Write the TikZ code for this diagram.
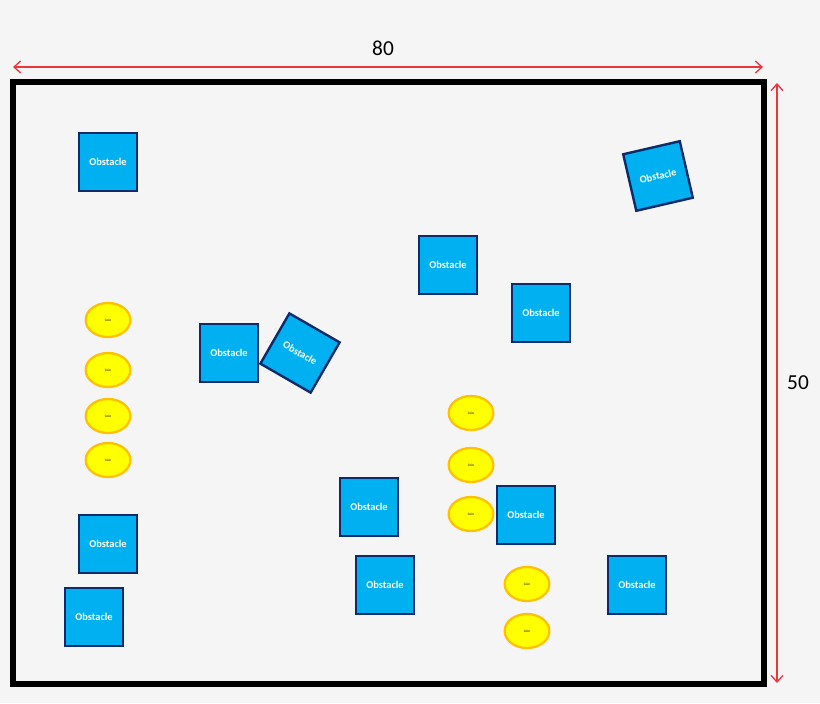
\documentclass[tikz,border=0pt]{standalone}
\usepackage{fontspec}
\setmainfont{Carlito}
\usetikzlibrary{arrows.meta,shapes.geometric}
\definecolor{obstblue}{HTML}{00B0F0}
\definecolor{obstedge}{HTML}{0D2B6B}
\definecolor{coinfill}{HTML}{FFFF00}
\definecolor{coinedge}{HTML}{FFC000}
\definecolor{bggray}{HTML}{F5F5F5}
\definecolor{dimred}{HTML}{E8383D}
\begin{document}
\begin{tikzpicture}[x = 0.75pt, y = -0.75pt,
    obst/.style = {shape = rectangle, fill = obstblue, draw = obstedge,
                   line width = 1.8pt, minimum size = 43.5pt, inner sep = 0pt,
                   text = white, font = \fontsize{7.8}{9}\selectfont\bfseries},
    coin/.style = {shape = ellipse, fill = coinfill, draw = coinedge,
                   line width = 1.7pt, minimum width = 33.5pt,
                   minimum height = 25.5pt, inner sep = 0pt,
                   font = \fontsize{2.6}{3}\selectfont},
    dim/.style = {draw = dimred, line width = 1pt,
                  {Straight Barb[length = 5pt, width = 9pt]}-{Straight Barb[length = 5pt, width = 9pt]}},
    dimlabel/.style = {font = \fontsize{16}{18}\selectfont}]
  \fill [bggray] (0, 0) rectangle (820, 703);
  \useasboundingbox (0, 0) rectangle (820, 703);

  % field
  \draw [line width = 3.8pt] (13, 82) rectangle (764, 684);

  % dimensions
  \coordinate (wl) at (13, 67);
  \coordinate (wr) at (763, 67);
  \coordinate (ht) at (777, 83);
  \coordinate (hb) at (777, 683);
  \draw [dim] (wl) -- (wr);
  \draw [dim] (ht) -- (hb);
  \node [dimlabel] (lw) at (383, 48) {80};
  \node [dimlabel] (lh) at (798, 383) {50};

  % obstacles
  \node [obst] (o1)  at (108, 162) {Obstacle};
  \node [obst] (o2)  at (448, 265) {Obstacle};
  \node [obst] (o3)  at (541, 313) {Obstacle};
  \node [obst] (o4)  at (229, 353) {Obstacle};
  \node [obst, rotate = -30] (o5) at (300, 353) {Obstacle};
  \node [obst, rotate = 13]  (o6) at (658, 176) {Obstacle};
  \node [obst] (o7)  at (369, 507) {Obstacle};
  \node [obst] (o8)  at (526, 515) {Obstacle};
  \node [obst] (o9)  at (108, 544) {Obstacle};
  \node [obst] (o10) at (385, 585) {Obstacle};
  \node [obst] (o11) at (637, 585) {Obstacle};
  \node [obst] (o12) at (94, 617)  {Obstacle};

  % coins
  \node [coin] (c1) at (108, 320) {Coin};
  \node [coin] (c2) at (108, 370) {Coin};
  \node [coin] (c3) at (108, 416) {Coin};
  \node [coin] (c4) at (108, 460) {Coin};
  \node [coin] (c5) at (471, 413) {Coin};
  \node [coin] (c6) at (471, 465) {Coin};
  \node [coin] (c7) at (471, 514) {Coin};
  \node [coin] (c8) at (527, 584) {Coin};
  \node [coin] (c9) at (527, 631) {Coin};
\end{tikzpicture}
\end{document}
